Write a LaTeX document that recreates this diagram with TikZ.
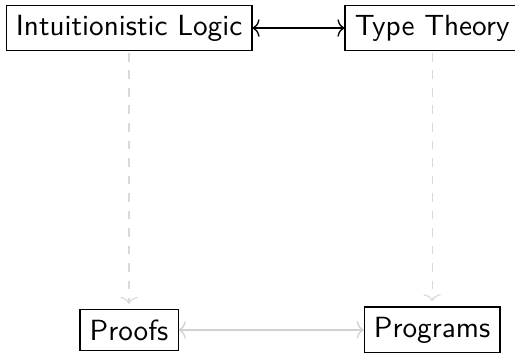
\documentclass[tikz,border=0pt]{standalone}
\usetikzlibrary{arrows.meta}
\begin{document}
\begin{tikzpicture}[x=1pt,y=1pt,
  >={Computer Modern Rightarrow[width=6pt, length=2.4pt]},
  box/.style={draw, inner sep=.3333em, font=\sffamily},
  link/.style={<->, line width=0.45pt},
  faint/.style={<->, draw=black!18, line width=0.45pt},
  down/.style={->, draw=black!15, dashed, line width=0.4pt, shorten >=1.8pt, shorten <=0.5pt}]
\useasboundingbox (0,0) rectangle (176.4,-120.9);
\node[box] (il) at (44.2,-9.6) {Intuitionistic Logic};
\node[box] (tt) at (148,-9.6) {Type Theory};
\node[box] (pf) at (44.2,-113) {Proofs};
\node[box] (pg) at (148,-113) {Programs};
\draw[link] (il) -- (tt);
\draw[faint] (pf) -- (pg);
\draw[down] (il) -- (pf);
\draw[down] (tt) -- (pg);
\end{tikzpicture}
\end{document}
